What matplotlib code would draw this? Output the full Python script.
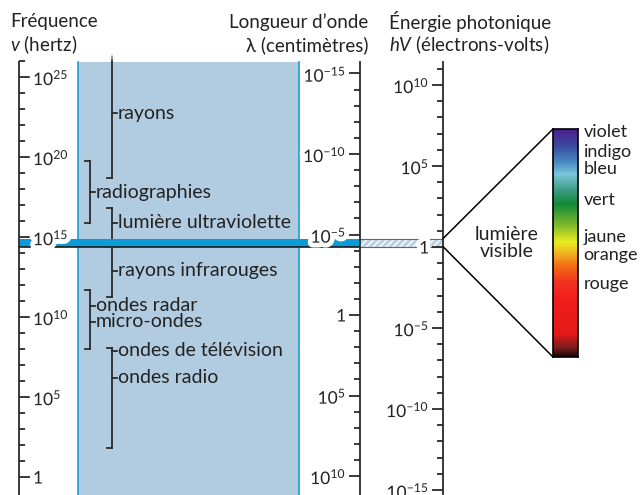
import matplotlib
matplotlib.use("Agg")
import matplotlib.pyplot as plt
import matplotlib.patheffects as pe
import numpy as np
from matplotlib.ticker import FixedLocator, NullFormatter, FuncFormatter
from matplotlib.patches import ConnectionPatch
from matplotlib.colors import LinearSegmentedColormap

plt.rcParams["font.family"] = ["Lato", "DejaVu Sans"]
plt.rcParams["mathtext.fontset"] = "custom"
plt.rcParams["mathtext.rm"] = "Lato"
plt.rcParams["mathtext.it"] = "Lato:italic"

# scales (log10 exponents)
freq_major = [0, 5, 10, 15, 20, 25]
freq_minor = list(range(0, 27))
wave_major = [-15, -10, -5, 0, 5, 10]
wave_minor = list(range(-15, 11))
energy_major = [-15, -10, -5, 0, 5, 10]
energy_minor = list(range(-15, 12))

# spectrum bands, in log10(frequency / Hz)
band_labels = [
    ["rayons"],
    ["radiographies"],
    ["lumière ultraviolette", "rayons infrarouges"],
    ["ondes radar", "micro-ondes"],
    ["ondes de télévision", "ondes radio"],
]
band_hi = [26.3, 19.75, 16.8, 11.7, 8.06]
band_lo = [18.7, 15.9, 11.25, 8.0, 1.8]
label_at = [[22.75], [17.8], [15.9, 12.9], [10.7, 9.7], [7.9, 6.2]]
visible_lo, visible_hi = 14.4, 14.9

colour_names = ["violet", "indigo", "bleu", "vert", "jaune", "orange", "rouge"]

W, H = 640, 495
fig = plt.figure(figsize=(W / 100, H / 100), dpi=100)
fig.patch.set_facecolor("white")

# pixel helpers for placing the three scales
F0, FS = 477, 16.0      # frequency: y = F0 - FS*log
L0, LS = 315, 16.1      # wavelength: y = L0 + LS*log
E0, ES = 247, 16.2      # energy: y = E0 - ES*log
AX_TOP = 62
TXT = 14

ax = fig.add_axes([0, 0, 1, 1])
ax.set_xlim(0, W)
ax.set_yscale("log")
ax.set_ylim(10 ** ((F0 - H) / FS), 10 ** (F0 / FS))
ax.axis("off")

top = 10 ** ((F0 - AX_TOP) / FS)
bot = 10 ** ((F0 - H) / FS)
ax.fill_between([78, 299], bot, top, color="#b1cce0", lw=0, zorder=1)
for xe in (78, 299):
    ax.plot([xe, xe], [bot, top], color="#1e9bd7", lw=1.2, zorder=2)

dark = "#2a2a2a"
bx = [112, 90, 112, 90, 112]
for i, names in enumerate(band_labels):
    x = bx[i]
    lo, hi = 10 ** band_lo[i], 10 ** band_hi[i]
    ax.plot([x, x], [lo, min(hi, top)], color=dark, lw=1.3, zorder=3)
    if band_hi[i] > 26:
        for k, a in enumerate([0.7, 0.45, 0.2]):
            y0 = (F0 - AX_TOP) / FS + k * 0.15
            ax.plot([x, x], [10 ** y0, 10 ** (y0 + 0.15)], color=dark, alpha=a, lw=1.3, zorder=3)
    else:
        ax.plot([x - 5, x], [hi, hi], color=dark, lw=1.3, zorder=3)
    ax.plot([x - 5, x], [lo, lo], color=dark, lw=1.3, zorder=3)
    for name, ly in zip(names, label_at[i]):
        ax.plot([x, x + 5], [10 ** ly] * 2, color=dark, lw=1.3, zorder=3)
        ax.text(x + 5.5, 10 ** ly, name, fontsize=TXT, color="#222", va="center", ha="left", zorder=4)

# visible light band
ax.fill_between([19, 360], 10 ** visible_lo, 10 ** visible_hi, color="#0d9ad6", lw=0, zorder=5)
ax.plot([19, 360], [10 ** visible_lo] * 2, color="#1a1a1a", lw=1.2, zorder=5)
ax.fill_between([360, 443], 10 ** visible_lo, 10 ** visible_hi, facecolor="#bcd2e4",
                edgecolor="white", hatch="/////", lw=0, zorder=5)
ax.plot([360, 443], [10 ** visible_hi] * 2, color="#666", lw=0.8, zorder=5)
ax.plot([360, 443], [10 ** visible_lo] * 2, color="#666", lw=0.8, zorder=5)
ax.text(507, 10 ** 14.62, "lumière\nvisible", fontsize=TXT, color="#222",
        ha="center", va="center", linespacing=1.05)


def fmt(v, pos):
    e = int(round(np.log10(v)))
    return "1" if e == 0 else "$10^{%d}$" % e


def scale_axis(xpx, ylim, major, minor, spine_lim, side):
    a = fig.add_axes([xpx / W, 0, 1e-4, 1])
    a.set_facecolor("none")
    a.set_yscale("log")
    a.set_ylim(*ylim)
    a.set_xticks([])
    for s in a.spines.values():
        s.set_visible(False)
    a.spines[side].set_visible(True)
    a.spines[side].set_color("#2a2a2a")
    a.spines[side].set_linewidth(1.3)
    a.spines[side].set_bounds(*spine_lim)
    if side == "right":
        a.yaxis.tick_right()
    else:
        a.yaxis.tick_left()
    a.yaxis.set_major_locator(FixedLocator([10.0 ** k for k in major]))
    a.yaxis.set_minor_locator(FixedLocator([10.0 ** k for k in minor]))
    a.yaxis.set_major_formatter(FuncFormatter(fmt))
    a.yaxis.set_minor_formatter(NullFormatter())
    a.tick_params(axis="y", which="major", length=8, width=1.3, color="#2a2a2a",
                  labelsize=12.5, labelcolor="#222", pad=2)
    a.tick_params(axis="y", which="minor", length=4.5, width=1.3, color="#2a2a2a")
    for t in a.get_yticklabels():
        t.set_path_effects([pe.withStroke(linewidth=7, foreground="white")])
    return a


scale_axis(19, (10 ** ((F0 - H) / FS), 10 ** (F0 / FS)), freq_major, freq_minor,
           (10 ** ((F0 - H) / FS), 10 ** ((F0 - AX_TOP) / FS)), "right")
scale_axis(360, (10 ** ((H - L0) / LS), 10 ** (-L0 / LS)), wave_major, wave_minor,
           (10 ** ((AX_TOP - L0) / LS), 10 ** ((H - L0) / LS)), "left")
scale_axis(443, (10 ** ((E0 - H) / ES), 10 ** (E0 / ES)), energy_major, energy_minor,
           (10 ** ((E0 - H) / ES), 10 ** ((E0 - AX_TOP) / ES)), "left")

# colour bar of the visible spectrum
cax = fig.add_axes([553 / W, (H - 357) / H, 25 / W, 228 / H])
stops = [(0.0, "#4b1c8c"), (0.08, "#3b4ca2"), (0.15, "#4a8cc2"), (0.2, "#7ac6da"),
         (0.27, "#3c9c82"), (0.33, "#10893a"), (0.42, "#7bb82a"), (0.5, "#eaed22"),
         (0.56, "#f2a322"), (0.6, "#f37012"), (0.67, "#f23421"), (0.75, "#f11d1d"),
         (0.9, "#e51919"), (0.96, "#7c1d1d"), (1.0, "#1c0606")]
cmap = LinearSegmentedColormap.from_list("vis", stops)
cax.imshow(np.linspace(0, 1, 256)[:, None], cmap=cmap, aspect="auto",
           extent=(0, 1, 0, 1), origin="upper")
cax.set_xticks([])
cax.set_yticks([])
for s in cax.spines.values():
    s.set_linewidth(1.2)
    s.set_color("black")

colour_pos = [0.987, 0.899, 0.825, 0.689, 0.526, 0.447, 0.32]
for name, yp in zip(colour_names, colour_pos):
    cax.text(1.22, yp, name, transform=cax.transAxes, fontsize=13, color="#222",
             ha="left", va="center")

for yv, yb in ((visible_hi, 1), (visible_lo, 0)):
    con = ConnectionPatch(xyA=(443, 10 ** yv), coordsA=ax.transData,
                          xyB=(0, yb), coordsB=cax.transAxes, color="black", lw=1.1)
    fig.add_artist(con)

# headers
kw = dict(fontsize=13.5, color="#222", va="center")
fig.text(10 / W, 1 - 22 / H, "Fréquence", ha="left", **kw)
fig.text(10 / W, 1 - 45 / H, "$v$ (hertz)", ha="left", **kw)
fig.text(368 / W, 1 - 22 / H, "Longueur d’onde", ha="right", **kw)
fig.text(368 / W, 1 - 45 / H, "λ (centimètres)", ha="right", **kw)
fig.text(389 / W, 1 - 22 / H, "Énergie photonique", ha="left", **kw)
fig.text(389 / W, 1 - 45 / H, "$hV$ (électrons-volts)", ha="left", **kw)

fig.savefig("out.png", dpi=100)
